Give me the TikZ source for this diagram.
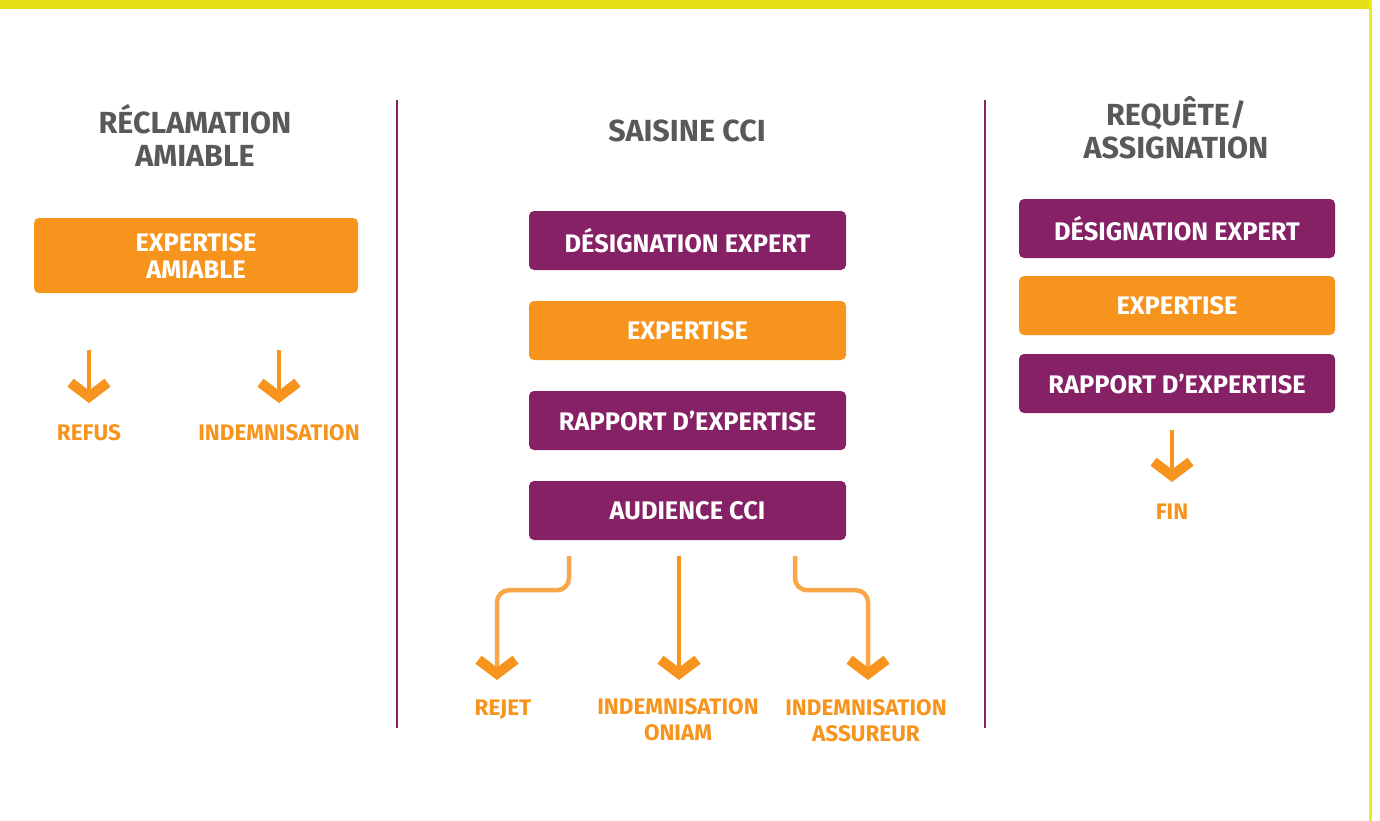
\documentclass[tikz,border=0pt]{standalone}
\usepackage{fontspec}
\newfontfamily\dinfont{Fira Sans}
\usetikzlibrary{arrows.meta}

\definecolor{cpurple}{HTML}{862165}
\definecolor{corange}{HTML}{F7941D}
\definecolor{clight}{HTML}{FAA74A}
\definecolor{cgray}{HTML}{58595B}
\definecolor{cyellow}{HTML}{E3DF14}
\definecolor{cyellowb}{HTML}{F0EA1C}

\tikzset{
  box/.style={rounded corners=5pt, minimum height=59pt, inner sep=0pt, text=white, align=center,
    font=\dinfont\bfseries\fontsize{25.4}{27}\selectfont},
  purplebox/.style={box, fill=cpurple},
  orangebox/.style={box, fill=corange},
  heading/.style={text=cgray, align=center, inner sep=0pt,
    font=\dinfont\bfseries\fontsize{30.5}{33}\selectfont},
  outcome/.style={text=corange, align=center, inner sep=0pt,
    font=\dinfont\bfseries\fontsize{22.5}{26}\selectfont},
  divider/.style={draw=cpurple, line width=2.5pt},
  flow/.style={draw=corange, line width=4.5pt,
    -{Straight Barb[length=14pt, width=37pt, line width=10pt, color=corange]}},
  branch/.style={flow, draw=clight, rounded corners=12pt}
}

\begin{document}
\begin{tikzpicture}[x=1pt, y=-1pt]
    \useasboundingbox (0,0) rectangle (1380,821);
    \fill[white] (0,0) rectangle (1380,821);

    % yellow frame
    \fill[cyellow] (0,0) rectangle (1369,9);
    \fill[cyellowb] (1369,0) rectangle (1372,821);

    % column separators
    \draw[divider] (397,100) -- (397,728);
    \draw[divider] (985,100) -- (985,728);

    % headings
    \node[heading] (reclamation) at (195,135) {RÉCLAMATION\\AMIABLE};
    \node[heading] (saisine) at (687,131) {SAISINE CCI};
    \node[heading] (requete) at (1176,128) {REQUÊTE/\\ASSIGNATION};

    % left column
    \node[orangebox, minimum width=324pt, minimum height=75pt] (expamiable) at (196,255.5) {EXPERTISE\\AMIABLE};
    \node[outcome] (refus) at (89,433) {REFUS};
    \node[outcome] (indem) at (279,433) {INDEMNISATION};
    \coordinate (refus-tip) at (89,403);
    \coordinate (indem-tip) at (279,403);
    \draw[flow, shorten <=57pt] (expamiable.south -| refus-tip) -- (refus-tip);
    \draw[flow, shorten <=57pt] (expamiable.south -| indem-tip) -- (indem-tip);

    % middle column
    \node[purplebox, minimum width=317pt] (designcci) at (687.5,240.5) {DÉSIGNATION EXPERT};
    \node[orangebox, minimum width=317pt] (expcci) at (687.5,330.5) {EXPERTISE};
    \node[purplebox, minimum width=317pt] (rapportcci) at (687.5,420.5) {RAPPORT D’EXPERTISE};
    \node[purplebox, minimum width=317pt] (audience) at (687.5,510.5) {AUDIENCE CCI};

    \node[outcome] (rejet) at (503,710) {REJET};
    \node[outcome] (oniam) at (678,720) {INDEMNISATION\\ONIAM};
    \node[outcome] (assureur) at (866,721) {INDEMNISATION\\ASSUREUR};
    \coordinate (rejet-tip) at (497,680);
    \coordinate (oniam-tip) at (679,680);
    \coordinate (assureur-tip) at (868,680);

    \draw[branch, shorten <=16pt] ([xshift=-118.5pt]audience.south) -- ++(0,50) -| (rejet-tip);
    \draw[flow, shorten <=16pt] (audience.south -| oniam-tip) -- (oniam-tip);
    \draw[branch, shorten <=16pt] ([xshift=107.5pt]audience.south) -- ++(0,50) -| (assureur-tip);

    % right column
    \node[purplebox, minimum width=316pt] (designtgi) at (1177,228.5) {DÉSIGNATION EXPERT};
    \node[orangebox, minimum width=316pt] (exptgi) at (1177,305.5) {EXPERTISE};
    \node[purplebox, minimum width=316pt] (rapporttgi) at (1177,383.5) {RAPPORT D’EXPERTISE};
    \node[outcome] (fin) at (1172,512) {FIN};
    \coordinate (fin-tip) at (1172,482);
    \draw[flow, shorten <=17pt] (rapporttgi.south -| fin-tip) -- (fin-tip);
\end{tikzpicture}
\end{document}
